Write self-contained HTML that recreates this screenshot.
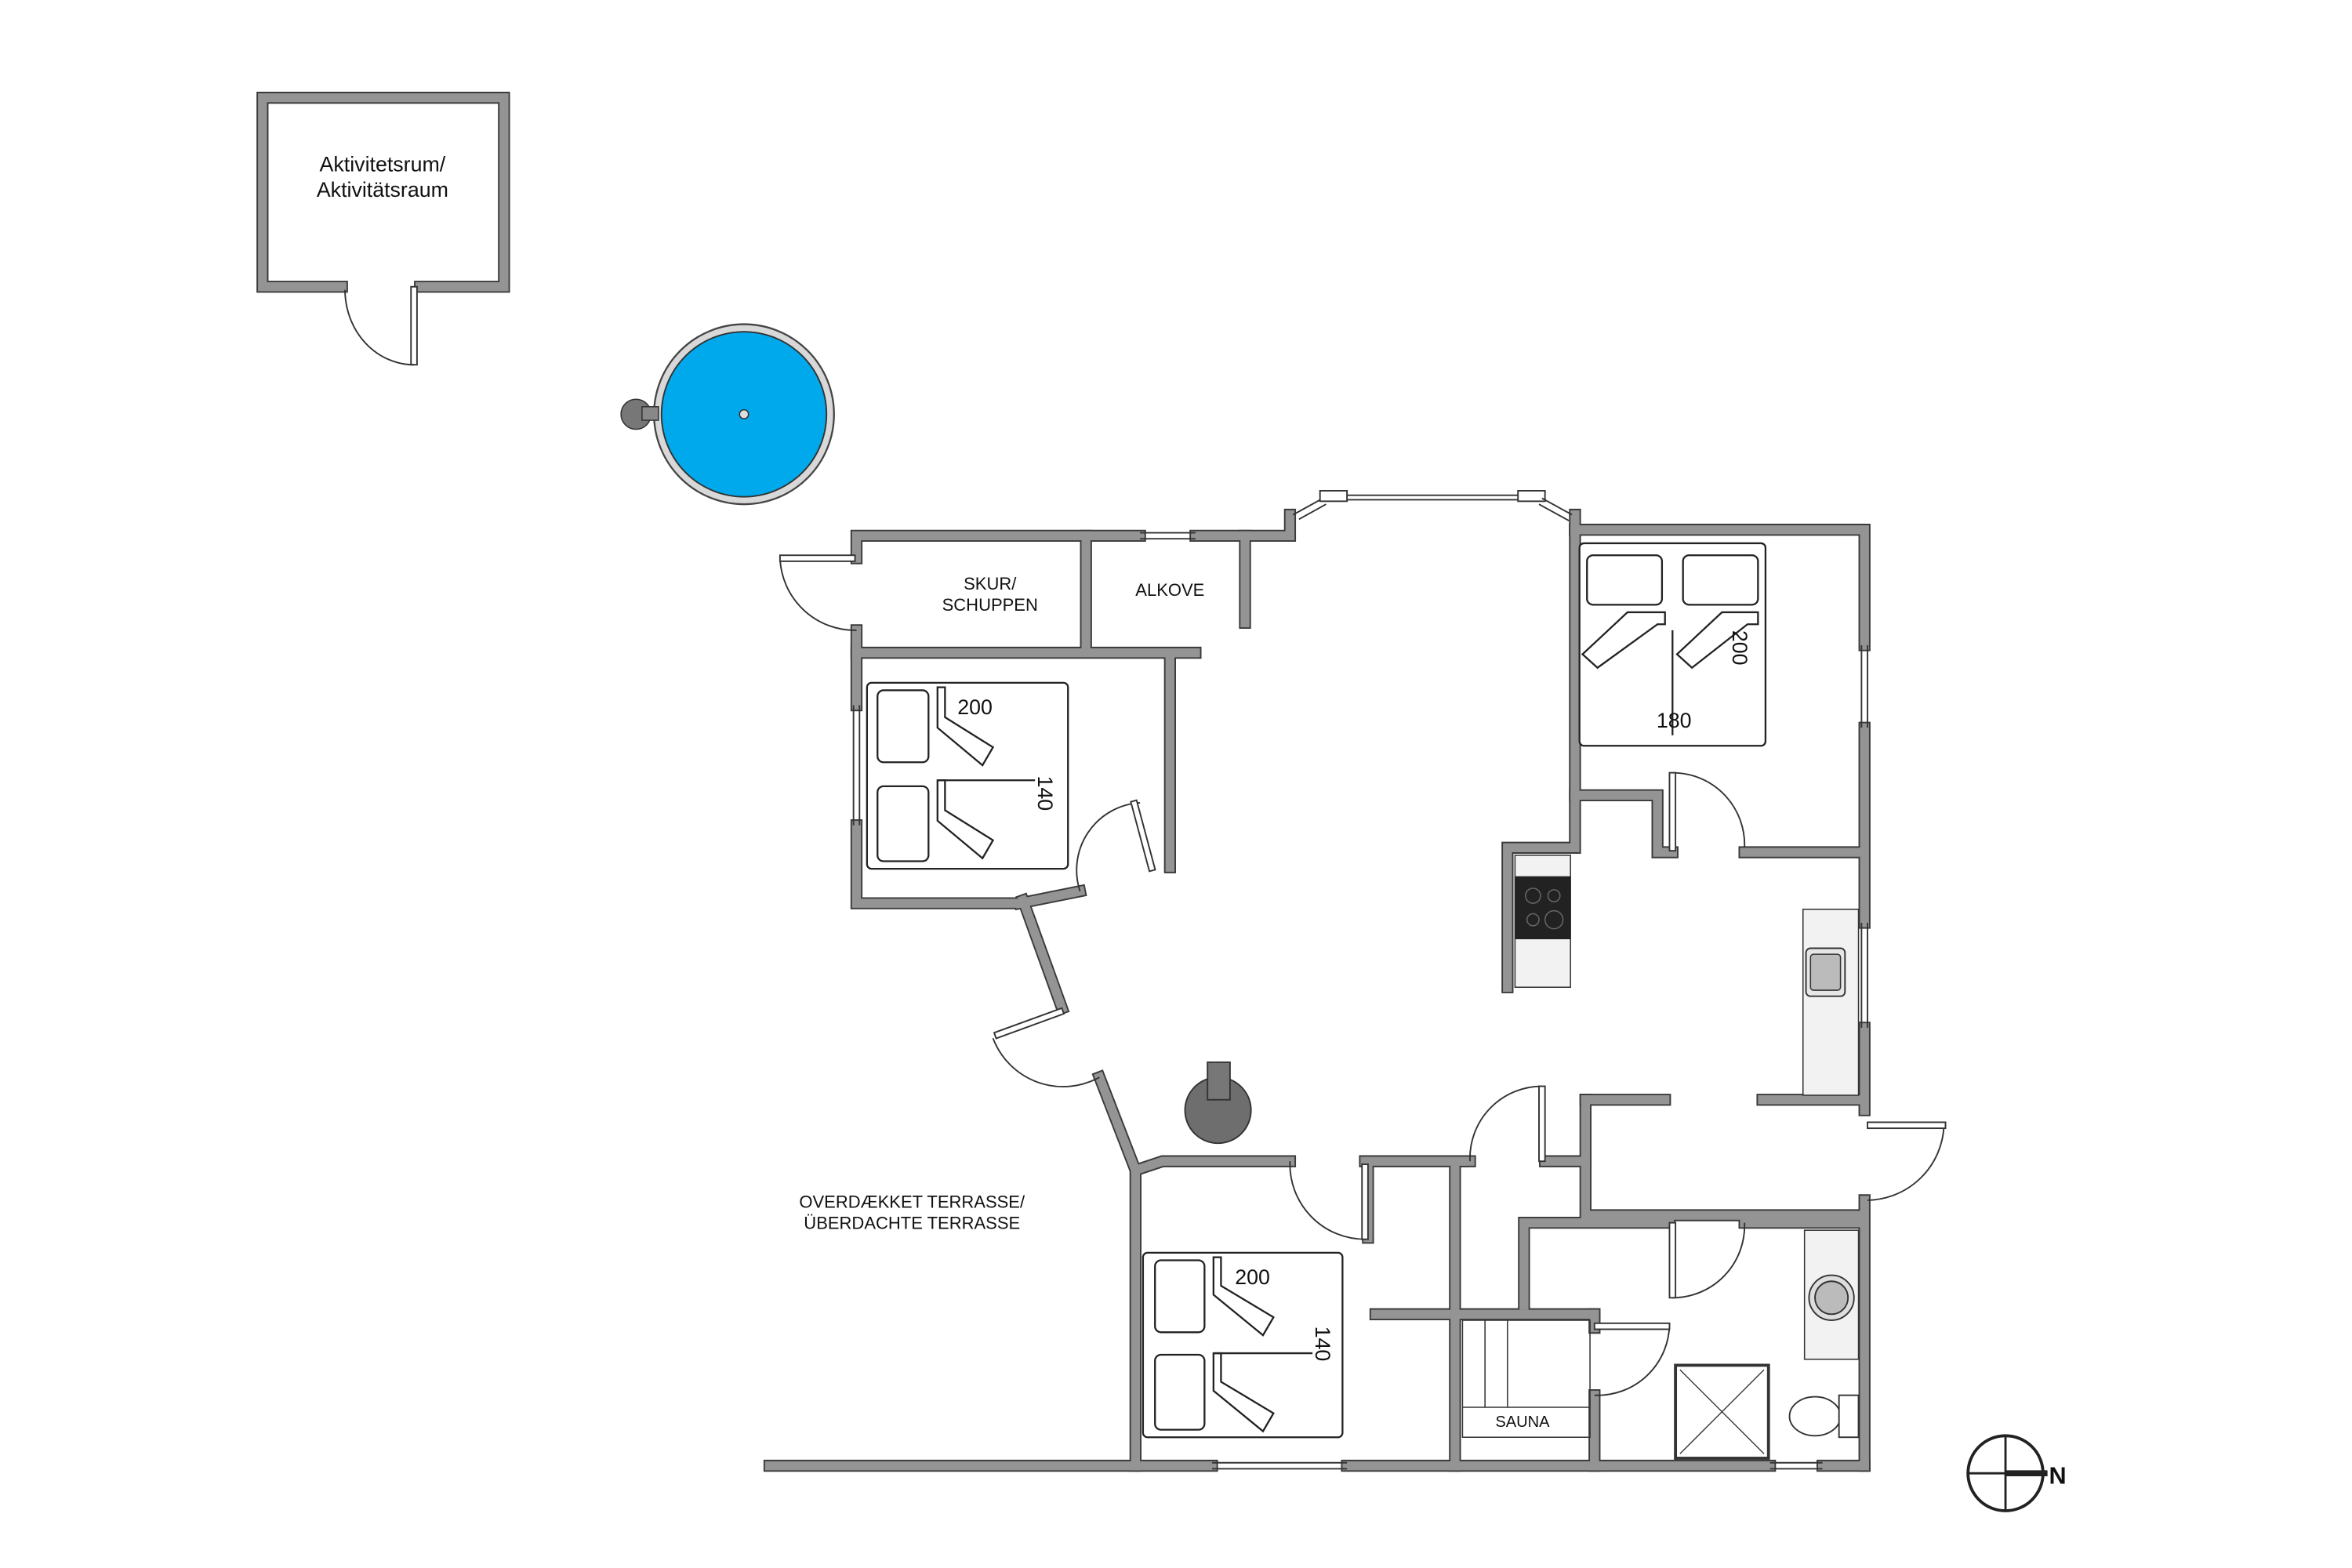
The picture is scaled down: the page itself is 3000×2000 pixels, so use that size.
<!DOCTYPE html>
<html><head><meta charset="utf-8"><style>
html,body{margin:0;padding:0;background:#fff}
svg{display:block}
text{font-family:"Liberation Sans",sans-serif;fill:#111}
</style></head><body>
<svg width="3000" height="2000" viewBox="0 0 1568 1045" xmlns="http://www.w3.org/2000/svg">
<defs>
<g id="walls" fill="none" stroke-linejoin="miter" stroke-linecap="square">
 <path d="M228,191 L175,191 L175,65 L336,65 L336,191 L280,191"/>
 <path d="M571,372 L571,357 L760,357"/>
 <path d="M797,357 L860,357 L860,343"/>
 <path d="M571,420 L571,470"/>
 <path d="M571,550 L571,602 L680,602"/>
 <path d="M724,357 L724,433"/>
 <path d="M571,435 L797,435"/>
 <path d="M830,357 L830,415"/>
 <path d="M780,438 L780,578"/>
 <path d="M680,602 L720,594"/>
 <path d="M682,600 L708,672"/>
 <path d="M733,718 L757,780 L757,977"/>
 <path d="M757,780 L775,774 L860,774"/>
 <path d="M910,774 L975,774"/>
 <path d="M912,774 L912,825"/>
 <path d="M970,774 L970,977"/>
 <path d="M975,774 L980,774"/>
 <path d="M1030,774 L1057,774"/>
 <path d="M1057,733 L1057,810 L1240,810"/>
 <path d="M1057,733 L1110,733"/>
 <path d="M1175,733 L1240,733"/>
 <path d="M1016,870 L1016,815 L1113,815"/>
 <path d="M1163,815 L1240,815"/>
 <path d="M917,876 L1063,876"/>
 <path d="M1063,876 L1063,885"/>
 <path d="M1063,930 L1063,977"/>
 <path d="M513,977 L808,977"/>
 <path d="M898,977 L1180,977"/>
 <path d="M1215,977 L1243,977"/>
 <path d="M1050,353 L1050,343"/>
 <path d="M1050,353 L1243,353 L1243,430"/>
 <path d="M1243,485 L1243,615"/>
 <path d="M1243,685 L1243,740"/>
 <path d="M1243,800 L1243,977"/>
 <path d="M1050,353 L1050,565 L1005,565 L1005,658"/>
 <path d="M1050,530 L1105,530 L1105,568 L1115,568"/>
 <path d="M1163,568 L1240,568"/>
</g>
</defs>
<use href="#walls" stroke="#3a3a3a" stroke-width="8"/>
<use href="#walls" stroke="#949494" stroke-width="6"/>

<text x="255" y="114" font-size="14" text-anchor="middle">Aktivitetsrum/</text>
<text x="255" y="131" font-size="14" text-anchor="middle">Aktivitätsraum</text>
<rect x="274" y="191" width="4" height="52" fill="#fff" stroke="#333" stroke-width="1"/>
<path d="M230,193 A46,50 0 0 0 276,243" fill="none" stroke="#333" stroke-width="1"/>

<circle cx="496" cy="276" r="60" fill="#d8d8d8" stroke="#444" stroke-width="1.2"/>
<circle cx="496" cy="276" r="55" fill="#00a9ec" stroke="#333" stroke-width="1"/>
<circle cx="496" cy="276" r="3" fill="#ddd" stroke="#333" stroke-width="0.8"/>
<circle cx="424" cy="276" r="10" fill="#777" stroke="#333" stroke-width="0.8"/>
<rect x="428" y="271" width="11" height="9" fill="#888" stroke="#333" stroke-width="0.8"/>

<g stroke="#333" stroke-width="1" fill="#fff">
<line x1="760" y1="355" x2="797" y2="355"/><line x1="760" y1="359" x2="797" y2="359"/>
<line x1="862" y1="343" x2="882" y2="332"/><line x1="866" y1="346" x2="884" y2="336"/>
<rect x="880" y="327" width="18" height="7"/>
<line x1="898" y1="330" x2="1012" y2="330"/><line x1="898" y1="333" x2="1012" y2="333"/>
<rect x="1012" y="327" width="18" height="7"/>
<line x1="1028" y1="332" x2="1048" y2="343"/><line x1="1026" y1="336" x2="1046" y2="347"/>
<line x1="1241" y1="430" x2="1241" y2="485"/><line x1="1245" y1="430" x2="1245" y2="485"/>
<line x1="1241" y1="615" x2="1241" y2="685"/><line x1="1245" y1="615" x2="1245" y2="685"/>
<line x1="808" y1="975" x2="898" y2="975"/><line x1="808" y1="979" x2="898" y2="979"/>
<line x1="1180" y1="975" x2="1215" y2="975"/><line x1="1180" y1="979" x2="1215" y2="979"/>
<line x1="569" y1="470" x2="569" y2="550"/><line x1="573" y1="470" x2="573" y2="550"/>
</g>

<g stroke="#333" stroke-width="1" fill="none">
 <path d="M571,420 A50,50 0 0 1 520,372"/><rect x="520" y="370" width="50" height="4" fill="#fff"/>
 <path d="M720,594 A45,45 0 0 1 760,535"/><rect x="760" y="533" width="4" height="48" fill="#fff" transform="rotate(-15 762 557)"/>
 <path d="M733,718 A50,50 0 0 1 662,692"/><rect x="662" y="680" width="48" height="4" fill="#fff" transform="rotate(-20 686 682)"/>
 <path d="M860,774 A50,50 0 0 0 910,826"/><rect x="908" y="776" width="4" height="50" fill="#fff"/>
 <path d="M980,774 A48,48 0 0 1 1028,724"/><rect x="1026" y="724" width="4" height="50" fill="#fff"/>
 <path d="M1115,515 A48,48 0 0 1 1163,565"/><rect x="1113" y="515" width="4" height="52" fill="#fff"/>
 <path d="M1163,815 A48,48 0 0 1 1115,865"/><rect x="1113" y="815" width="4" height="50" fill="#fff"/>
 <path d="M1063,930 A48,48 0 0 0 1113,882"/><rect x="1063" y="882" width="50" height="4" fill="#fff"/>
 <path d="M1245,800 A52,52 0 0 0 1296,750"/><rect x="1245" y="748" width="52" height="4" fill="#fff"/>
</g>

<text x="660" y="393" font-size="11.5" text-anchor="middle">SKUR/</text>
<text x="660" y="407" font-size="11.5" text-anchor="middle">SCHUPPEN</text>
<text x="780" y="397" font-size="11.5" text-anchor="middle">ALKOVE</text>
<text x="608" y="805" font-size="11.5" text-anchor="middle">OVERDÆKKET TERRASSE/</text>
<text x="608" y="819" font-size="11.5" text-anchor="middle">ÜBERDACHTE TERRASSE</text>

<g stroke="#222" stroke-width="1.2" fill="#fff">
 <rect x="578" y="455" width="134" height="124" rx="3"/>
 <rect x="585" y="460" width="34" height="48" rx="4"/>
 <rect x="585" y="524" width="34" height="50" rx="4"/>
 <path d="M625,458 V485 L655,510 L662,498 L630,478 V458 Z"/>
 <path d="M625,520 V547 L655,572 L662,560 L630,540 V520 Z"/>
 <line x1="625" y1="520" x2="690" y2="520"/>
</g>
<text x="650" y="476" font-size="14" text-anchor="middle">200</text>
<text x="692" y="517" font-size="14" transform="rotate(90 692 517)">140</text>

<g stroke="#222" stroke-width="1.2" fill="#fff">
 <rect x="762" y="835" width="133" height="123" rx="3"/>
 <rect x="770" y="840" width="33" height="48" rx="4"/>
 <rect x="770" y="903" width="33" height="50" rx="4"/>
 <path d="M809,838 V863 L842,890 L849,878 L814,857 V838 Z"/>
 <path d="M809,902 V927 L842,954 L849,942 L814,921 V902 Z"/>
 <line x1="809" y1="902" x2="875" y2="902"/>
</g>
<text x="835" y="856" font-size="14" text-anchor="middle">200</text>
<text x="877" y="884" font-size="14" transform="rotate(90 877 884)">140</text>

<g stroke="#222" stroke-width="1.2" fill="#fff">
 <rect x="1053" y="362" width="124" height="135" rx="3"/>
 <rect x="1058" y="370" width="50" height="33" rx="4"/>
 <rect x="1122" y="370" width="50" height="33" rx="4"/>
 <path d="M1110,408 H1085 L1055,436 L1065,445 L1105,416 H1110 Z"/>
 <path d="M1172,408 H1148 L1118,436 L1128,445 L1165,416 H1172 Z"/>
 <line x1="1115" y1="420" x2="1115" y2="490"/>
</g>
<text x="1116" y="485" font-size="14" text-anchor="middle">180</text>
<text x="1155" y="420" font-size="14" transform="rotate(90 1155 420)">200</text>

<rect x="1010" y="570" width="37" height="88" fill="#f2f2f2" stroke="#333" stroke-width="0.8"/>
<rect x="1010" y="584" width="37" height="42" fill="#222"/>
<g fill="none" stroke="#666" stroke-width="0.8"><circle cx="1022" cy="597" r="5"/><circle cx="1036" cy="597" r="4"/><circle cx="1022" cy="613" r="4"/><circle cx="1036" cy="613" r="6"/></g>
<rect x="1202" y="606" width="37" height="124" fill="#f2f2f2" stroke="#333" stroke-width="0.8"/>
<rect x="1204" y="632" width="26" height="32" rx="3" fill="#e6e6e6" stroke="#333"/>
<rect x="1207" y="636" width="20" height="24" rx="2" fill="#bbb" stroke="#333" stroke-width="0.8"/>

<circle cx="812" cy="740" r="22" fill="#6e6e6e" stroke="#333"/>
<rect x="805" y="708" width="15" height="25" fill="#777" stroke="#333"/>

<rect x="1203" y="820" width="36" height="86" fill="#f2f2f2" stroke="#333" stroke-width="0.8"/>
<circle cx="1221" cy="865" r="15" fill="#ddd" stroke="#333"/><circle cx="1221" cy="865" r="11" fill="#bbb" stroke="#333"/>
<rect x="1117" y="910" width="62" height="62" fill="#fff" stroke="#333" stroke-width="2"/>
<line x1="1120" y1="913" x2="1176" y2="969" stroke="#333" stroke-width="0.7"/><line x1="1176" y1="913" x2="1120" y2="969" stroke="#333" stroke-width="0.7"/>
<ellipse cx="1210" cy="944" rx="17" ry="13" fill="#fff" stroke="#333"/>
<rect x="1226" y="930" width="13" height="28" fill="#fff" stroke="#333"/>

<g stroke="#333" stroke-width="0.8" fill="none">
<rect x="975" y="880" width="85" height="78"/>
<line x1="990" y1="880" x2="990" y2="938"/><line x1="1005" y1="880" x2="1005" y2="938"/>
<line x1="975" y1="938" x2="1060" y2="938"/>
</g>
<text x="1015" y="951" font-size="10.5" text-anchor="middle">SAUNA</text>

<circle cx="1337" cy="982" r="25" fill="none" stroke="#222" stroke-width="2"/>
<line x1="1337" y1="957" x2="1337" y2="1007" stroke="#222" stroke-width="1.5"/>
<line x1="1312" y1="982" x2="1337" y2="982" stroke="#222" stroke-width="1.5"/>
<line x1="1337" y1="982" x2="1365" y2="982" stroke="#222" stroke-width="4"/>
<text x="1366" y="989" font-size="16" font-weight="bold">N</text>
</svg>
</body></html>
